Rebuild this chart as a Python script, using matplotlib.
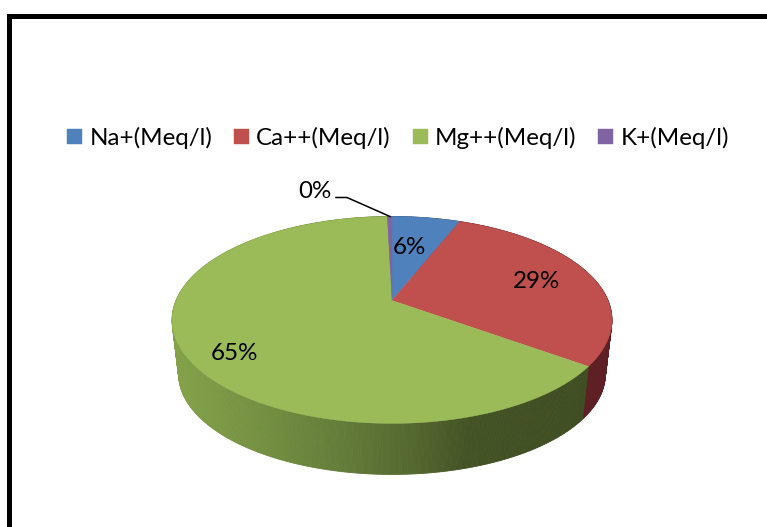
import numpy as np
import matplotlib
matplotlib.use("Agg")
import matplotlib.pyplot as plt
from matplotlib.collections import PolyCollection
from matplotlib.colors import to_rgb

categories = ["Na+(Meq/l)", "Ca++(Meq/l)", "Mg++(Meq/l)", "K+(Meq/l)"]
percent = [6.0, 29.0, 64.6, 0.4]

colors = ["#4F81BD", "#C0504D", "#9BBB59", "#8064A2"]
wall_colors = ["#2F4D71", "#5E2024", None, "#4C3C61"]

# shading of the green side wall along x
green_x = [175, 270, 350, 420, 470, 590]
green_shade = ["#84A14A", "#728E40", "#627A38", "#52662E", "#445325", "#3F4D22"]

plt.rcParams["font.family"] = ["Lato", "DejaVu Sans"]
FONT = 17.4

# pie geometry in pixels, tilted disc with perspective
CX, CY = 392.0, 300.5
SCALE_X, SCALE_Y, PERSP = 216.0, 99.8, 0.188
DEPTH, BOTTOM_SCALE = 54.7, 0.97


def project(theta):
    # theta runs clockwise from the top of the disc
    u = np.sin(theta)
    v = np.cos(theta)
    d = 1 + PERSP * v
    return SCALE_X * u / d, -SCALE_Y * v / d


def green_at(x):
    rgb = np.array([to_rgb(c) for c in green_shade])
    return [np.interp(x, green_x, rgb[:, k]) for k in range(3)]


fig = plt.figure(figsize=(7.67, 5.27), dpi=100)
ax = fig.add_axes([0, 0, 1, 1])
ax.set_xlim(0, 767)
ax.set_ylim(527, 0)
ax.axis("off")

edges = np.concatenate([[0], np.cumsum(percent)]) / 100 * 2 * np.pi

# side wall first, the top face covers its back half
for i, c in enumerate(colors):
    th = np.linspace(edges[i], edges[i + 1], max(4, int(percent[i] * 6)))
    x, y = project(th)
    x1, y1 = CX + x, CY + y
    x2, y2 = CX + BOTTOM_SCALE * x, CY + DEPTH + BOTTOM_SCALE * y
    quads = []
    face = []
    for j in range(len(th) - 1):
        quads.append([(x1[j], y1[j]), (x1[j + 1], y1[j + 1]), (x2[j + 1], y2[j + 1]), (x2[j], y2[j])])
        face.append(wall_colors[i] if wall_colors[i] else green_at(x1[j]))
    ax.add_collection(PolyCollection(quads, facecolors=face, edgecolors=face, linewidths=0.6, zorder=2))

# top face
handles = []
for i, c in enumerate(colors):
    th = np.linspace(edges[i], edges[i + 1], max(4, int(percent[i] * 6)))
    x, y = project(th)
    xs = np.concatenate([[CX], CX + x])
    ys = np.concatenate([[CY], CY + y])
    handles.append(ax.fill(xs, ys, color=c, lw=0.3, zorder=3, label=categories[i])[0])

# value labels
label_pos = [(409, 248), (536, 282), (234, 354), (315, 192)]
for v, (lx, ly) in zip(percent, label_pos):
    ax.text(lx, ly, f"{v:.0f}%", fontsize=FONT, color="black", ha="center", va="center", zorder=5)

# leader for the K+ label
ax.plot([336, 347, 390], [197.5, 197.5, 216.5], color="black", lw=1.1, zorder=5)

leg = ax.legend(handles=handles, ncol=4, loc="center", bbox_to_anchor=(398 / 767, 1 - 138 / 527),
                frameon=False, fontsize=FONT, handlelength=0.62, handleheight=0.62,
                handletextpad=0.3, columnspacing=0.9, borderpad=0, borderaxespad=0)

# frame, open on the right and at the bottom
ax.plot([8.5, 8.5, 767], [527, 16, 16], color="black", lw=3.6, solid_joinstyle="miter", zorder=6)

fig.savefig("out.png", dpi=100)
